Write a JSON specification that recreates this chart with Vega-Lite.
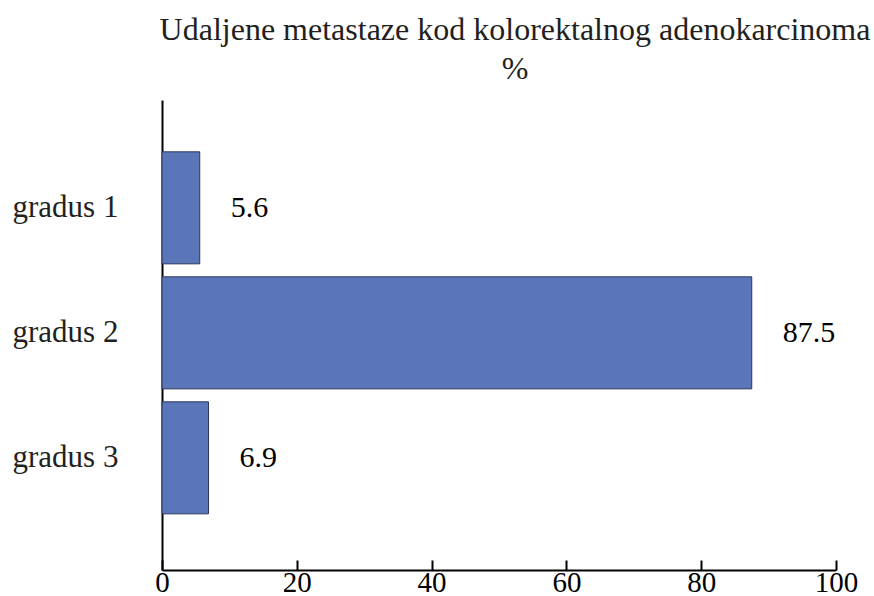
{
  "$schema": "https://vega.github.io/schema/vega-lite/v6.json",
  "autosize": "none",
  "width": 674,
  "height": 470,
  "padding": {"left": 162, "top": 100, "right": 38, "bottom": 26},
  "background": "white",
  "title": {
    "text": ["Udaljene metastaze kod kolorektalnog adenokarcinoma", "%"],
    "anchor": "middle",
    "dx": 16,
    "offset": 14,
    "lineHeight": 39,
    "font": "Liberation Serif, serif",
    "fontSize": 32,
    "fontWeight": "normal",
    "color": "#231f20"
  },
  "data": {
    "values": [
      {"grade": "gradus 1", "value": 5.6},
      {"grade": "gradus 2", "value": 87.5},
      {"grade": "gradus 3", "value": 6.9}
    ]
  },
  "config": {
    "view": {"stroke": null},
    "axis": {"grid": false, "domainColor": "#000000", "domainWidth": 2, "labelFont": "Liberation Serif, serif", "labelFontSize": 30, "labelColor": "#231f20"}
  },
  "encoding": {
    "y": {
      "field": "grade",
      "type": "nominal",
      "sort": null,
      "scale": {"paddingInner": 0.104, "paddingOuter": 0.432, "align": 0.48},
      "axis": {"title": null, "ticks": false, "labelAlign": "left", "labelPadding": 150, "labelFontSize": 31}
    },
    "x": {
      "field": "value",
      "type": "quantitative",
      "scale": {"domain": [0, 100], "nice": false},
      "axis": {
        "values": [0, 20, 40, 60, 80, 100],
        "tickSize": -10,
        "tickColor": "#000000",
        "tickWidth": 2,
        "labelPadding": 8,
        "labelFontSize": 29,
        "labelColor": "#000000",
        "labelFlush": false,
        "title": null
      }
    }
  },
  "layer": [
    {
      "mark": {"type": "bar", "color": "#5a76b8", "stroke": "#2a3560", "strokeWidth": 1}
    },
    {
      "mark": {"type": "text", "align": "left", "baseline": "middle", "dx": 31, "font": "Liberation Serif, serif", "fontSize": 30, "color": "#000000"},
      "encoding": {"text": {"field": "value", "type": "quantitative", "format": ".1f"}}
    }
  ]
}
